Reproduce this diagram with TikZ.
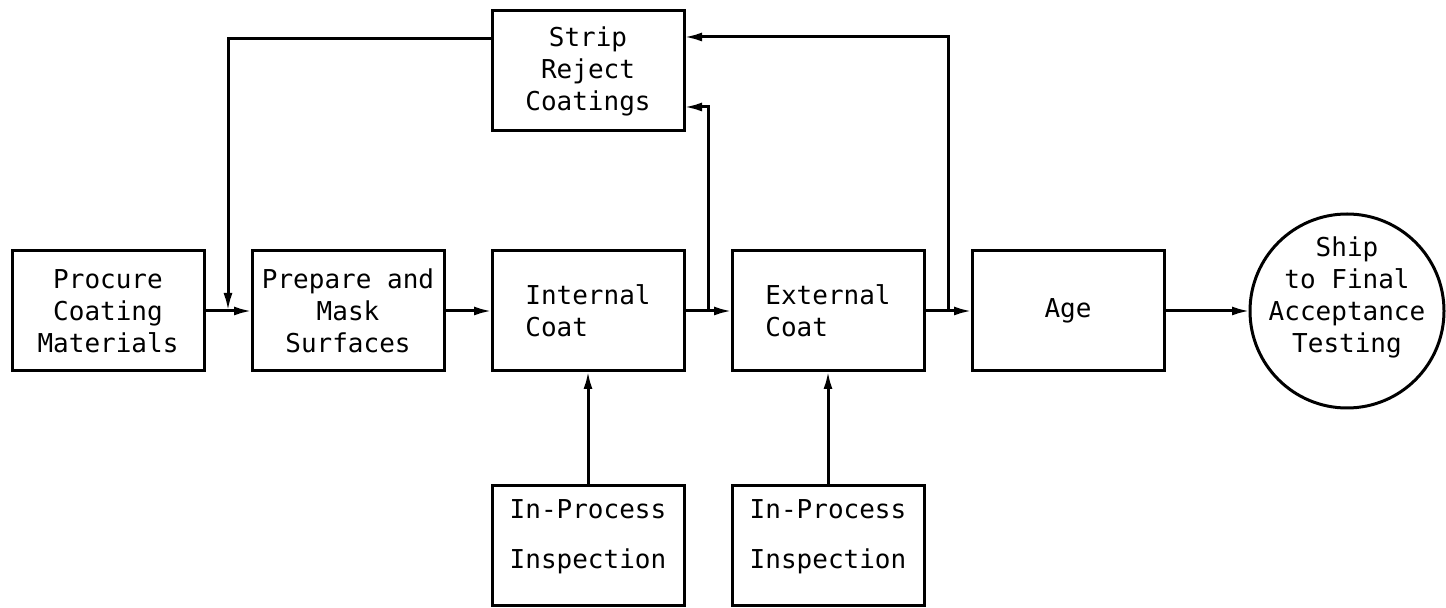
\documentclass[tikz,border=0pt]{standalone}
\usepackage{fontspec}
\setmainfont{DejaVu Sans Mono}
\usepackage{tikz}
\usetikzlibrary{arrows.meta,positioning,calc,shapes}

\begin{document}
\begin{tikzpicture}[->,>={Latex[length=9pt,width=4.5pt]}, node distance=24pt,
	line width=1.5pt,
	every node/.style={font=\fontsize{13pt}{16pt}\selectfont},
	block/.style={draw, rectangle, minimum width=96pt, minimum height=60pt, inner sep=2pt, outer sep=0pt},
	endpoint/.style={draw, circle, minimum size=97pt, inner sep=0pt, outer sep=0pt}
	]
\useasboundingbox (0,0) rectangle (723pt,-304pt);
% main row
\node[block, align=center] (proc) at (54pt,-155.5pt) {Procure\\Coating\\Materials};
\node[block, align=center] (prep) [right=of proc] {Prepare and\\Mask\\Surfaces};
\node[block, align=left]   (int)  [right=of prep] {Internal\\Coat\hspace{1em}};
\node[block, align=left]   (ext)  [right=of int]  {External\\Coat\hspace{1em}};
\node[block]               (age)  [right=of ext]  {Age};
\node[endpoint]            (ship) [right=43pt of age] {};
\node[align=center] (shiptxt) at ([yshift=7pt]ship.center) {Ship\\to Final\\Acceptance\\Testing};
% rework and inspection
\node[block, align=center] (strip) [above=60pt of int] {Strip\\Reject\\Coatings};
\node[block, align=left] (insp1) [below=57.5pt of int] {In-Process\\[9pt]Inspection\\[-4pt]\mbox{}};
\node[block, align=left] (insp2) [below=57.5pt of ext] {In-Process\\[9pt]Inspection\\[-4pt]\mbox{}};
% junctions on the main line
\coordinate (j1) at ($(proc.east)!.5!(prep.west)$);
\coordinate (j2) at ($(int.east)!.5!(ext.west)$);
\coordinate (j3) at ($(ext.east)!.5!(age.west)$);
\path
(proc)	edge (prep)
(prep)	edge (int)
(int)	edge (ext)
(ext)	edge (age)
(age)	edge (ship)
(insp1)	edge (int)
(insp2)	edge (ext)
;
\draw ([yshift=16pt]strip.west) -| (j1);
\draw (j2) |- ([yshift=-18pt]strip.east);
\draw (j3) |- ([yshift=17pt]strip.east);
\end{tikzpicture}
\end{document}
